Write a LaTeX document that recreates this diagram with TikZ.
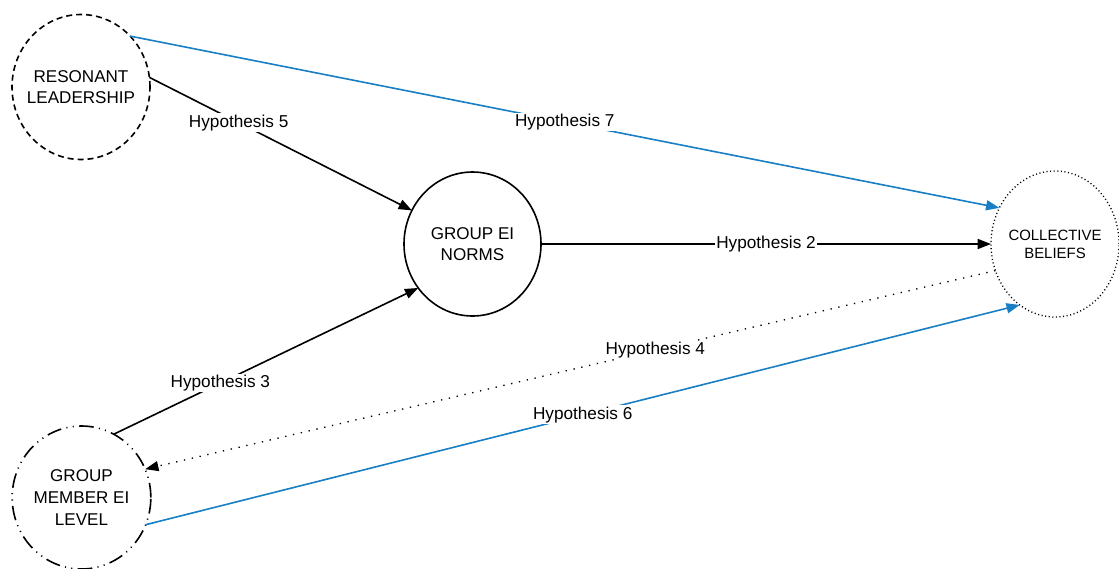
\documentclass[tikz,border=0pt]{standalone}
\usepackage{fontspec}
\setmainfont{Liberation Sans}
\usetikzlibrary{shapes.geometric,arrows.meta}
\definecolor{hblue}{RGB}{24,127,196}
\begin{document}
\begin{tikzpicture}[x=0.75pt,y=-0.75pt,
  concept/.style={ellipse,draw=black,line width=1.2pt,inner sep=0pt,outer sep=0pt},
  ctext/.style={align=center,font=\fontsize{12.8}{16.3}\selectfont},
  link/.style={line width=1.2pt,-{Triangle[length=10pt,width=7.5pt]}},
  hlab/.style={fill=white,inner sep=1pt,font=\fontsize{12.9}{15}\selectfont}]
\useasboundingbox (0,0) rectangle (1119,568);
\node[concept,dash pattern=on 4.5pt off 3pt,minimum width=103.5pt,minimum height=108.75pt,
  label={[ctext]center:RESONANT\\LEADERSHIP}] (rl) at (81,87) {};
\node[concept,minimum width=102.75pt,minimum height=108pt,
  label={[ctext]center:GROUP EI\\NORMS}] (gen) at (472.5,244) {};
\node[concept,line width=1pt,dash pattern=on 0.8pt off 1.9pt,minimum width=96pt,minimum height=109.5pt,
  label={[align=center,font=\fontsize{11.2}{13.5}\selectfont]center:COLLECTIVE\\BELIEFS}] (cb) at (1055,244) {};
\node[concept,dash pattern=on 11pt off 4pt on 0.8pt off 4pt on 0.8pt off 4pt,minimum width=104pt,minimum height=107.25pt,
  label={[ctext]center:GROUP\\MEMBER EI\\LEVEL}] (gm) at (81.5,497.5) {};

\draw[link] (rl.8) -- node[hlab,pos=0.34] {Hypothesis 5} (gen.151);
\draw[link,draw=hblue,fill=hblue] (rl.46) -- node[hlab,pos=0.50] {Hypothesis 7} (cb.147);
\draw[link] (gen.east) -- node[hlab,pos=0.50] {Hypothesis 2} (cb.west);
\draw[link,line width=1pt,dash pattern=on 1pt off 5pt] (cb.204) -- node[hlab,pos=0.40] {Hypothesis 4} (gm.24);
\draw[link] (gm.63) -- node[hlab,pos=0.35] {Hypothesis 3} (gen.219);
\draw[link,draw=hblue,fill=hblue] (gm.337) -- node[hlab,pos=0.50] {Hypothesis 6} (cb.240);
\end{tikzpicture}
\end{document}
